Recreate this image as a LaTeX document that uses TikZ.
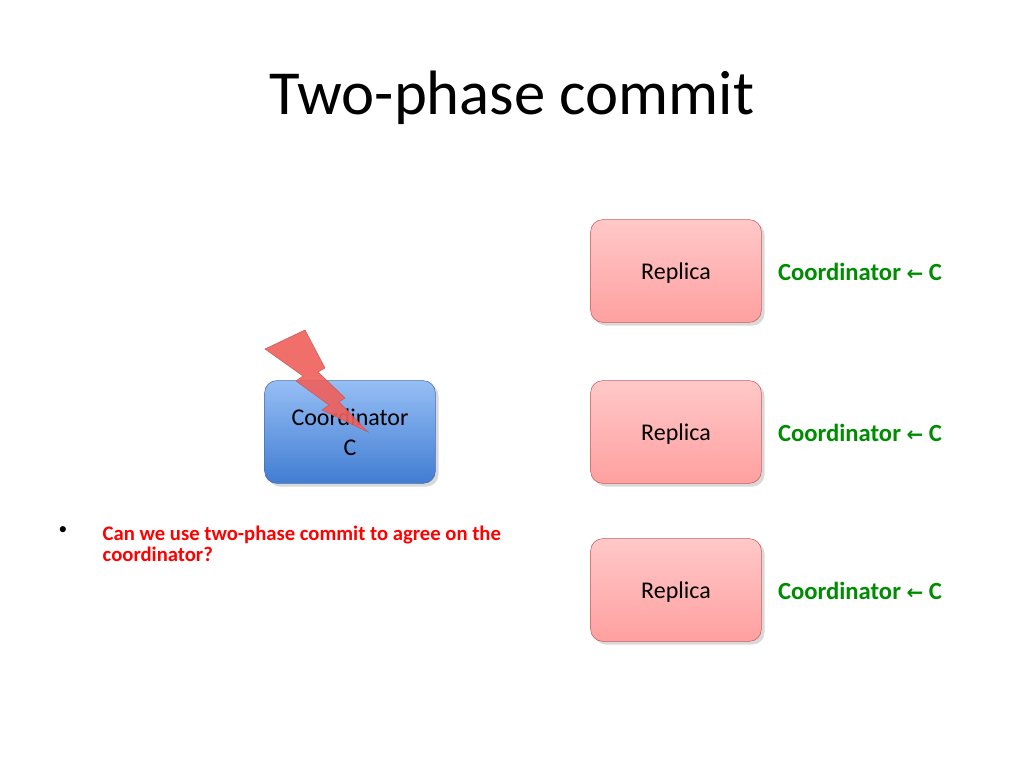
\documentclass[tikz,border=0pt]{standalone}
\usepackage{fontspec}
\setmainfont{Carlito}
\newfontfamily\arrowfont{DejaVu Sans}
\usetikzlibrary{shadows}
\definecolor{replicatop}{RGB}{255,200,200}
\definecolor{replicabot}{RGB}{255,160,160}
\definecolor{replicaline}{RGB}{200,90,90}
\definecolor{coordtop}{RGB}{150,190,245}
\definecolor{coordbot}{RGB}{65,125,210}
\definecolor{coordline}{RGB}{70,110,170}
\definecolor{darkgreen}{RGB}{0,140,0}
\definecolor{boltred}{RGB}{240,95,90}
\begin{document}
\begin{tikzpicture}[x=0.75pt,y=-0.75pt]
\tikzstyle{replica}=[draw=replicaline, rounded corners=9pt, minimum width=128pt, minimum height=77pt,
  top color=replicatop, bottom color=replicabot, drop shadow={opacity=0.3}, font=\fontsize{18}{23}\selectfont,
  text depth=0pt]
\tikzstyle{coord}=[replica, draw=coordline, top color=coordtop, bottom color=coordbot, align=center]
\tikzstyle{label}=[text=darkgreen, font=\bfseries\fontsize{18.5}{22}\selectfont]
\useasboundingbox (0,0) rectangle (1024,768);
\node at (512,98) {\fontsize{47}{56}\selectfont Two-phase commit};

\node[coord] (C) at (350,432) {Coordinator\\C};
\node[replica] (R1) at (676,271) {Replica};
\node[replica] (R2) at (676,432) {Replica};
\node[replica] (R3) at (676,590) {Replica};
\node[label] (L1) at (860,272) {Coordinator {\arrowfont\bfseries\fontsize{15}{18}\selectfont ←} C};
\node[label] (L2) at (860,433) {Coordinator {\arrowfont\bfseries\fontsize{15}{18}\selectfont ←} C};
\node[label] (L3) at (860,591) {Coordinator {\arrowfont\bfseries\fontsize{15}{18}\selectfont ←} C};

% the crash
\draw[replicaline, fill=boltred, fill opacity=0.9]
  (265,349) -- (305,330) -- (325,368) -- (318,372) -- (345,398) -- (339,402) -- (368,432)
  -- (322,410) -- (329,405) -- (296,381) -- (303,376) -- cycle;

\node[text=red, font=\bfseries\fontsize{15.5}{16}\selectfont, anchor=north west, align=left] (Q) at (98,521)
  {Can we use two-phase commit to agree on the\\coordinator?};
\node[font=\fontsize{13}{16}\selectfont] (B) at (63,531) {\textbullet};
\end{tikzpicture}
\end{document}
